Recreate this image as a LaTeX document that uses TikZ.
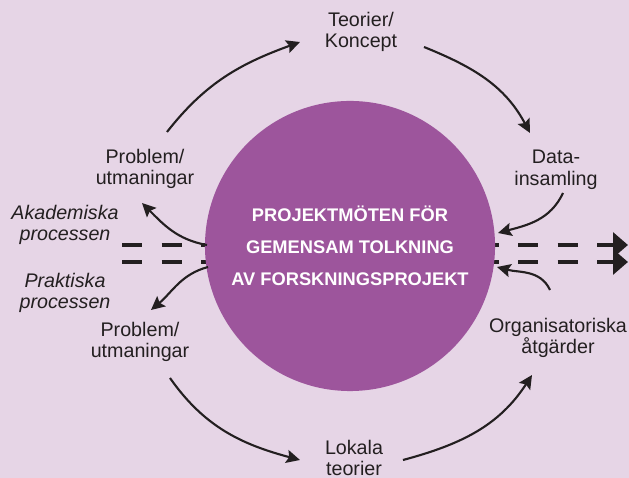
\documentclass[tikz,border=0pt]{standalone}
\usepackage{fontspec}
\setmainfont{Liberation Sans}
\usetikzlibrary{arrows.meta}
\definecolor{lavbg}{HTML}{E6D5E6}
\definecolor{plum}{HTML}{9D559C}
\definecolor{ink}{HTML}{231F20}

\begin{document}
\begin{tikzpicture}[x=0.025cm, y=0.025cm,
	label/.style={align=center, text=ink, inner sep=0pt, font=\fontsize{14}{15.5}\selectfont},
	side/.style={label, font=\fontsize{14}{15.5}\selectfont\itshape},
	flow/.style={ink, line width=1.5pt, -{Stealth[length=3.4mm, width=3.3mm, inset=0.6mm]}},
	track/.style={ink, line width=3.2pt, dash pattern=on 0.5cm off 0.49cm, -{Triangle[length=0.375cm, width=0.62cm]}}]
	\fill[lavbg] (0, 0) rectangle (629, 478);
	\useasboundingbox (0, 0) rectangle (629, 478);
	
	\coordinate (akad-start) at (122, 233);
	\coordinate (akad-end) at (628, 233);
	\coordinate (prak-start) at (122, 216);
	\coordinate (prak-end) at (628, 216);
	\draw[track] (akad-start) -- (akad-end);
	\draw[track] (prak-start) -- (prak-end);
	
	\node[circle, fill=plum, minimum size=7.25cm, inner sep=0pt, align=center, text=white, font=\fontsize{13}{22.7}\selectfont\bfseries] (core) at (350, 232) {PROJEKTMÖTEN FÖR\\GEMENSAM TOLKNING\\AV FORSKNINGSPROJEKT};
	
	\node[label] (teo) at (361, 446) {Teorier/\\Koncept};
	\node[label] (data) at (556, 308) {Data-\\insamling};
	\node[label] (probA) at (145, 309) {Problem/\\utmaningar};
	\node[side] (akad) at (65, 253) {Akademiska\\processen};
	\node[side] (prak) at (65, 185) {Praktiska\\processen};
	\node[label] (probP) at (140, 136) {Problem/\\utmaningar};
	\node[label] (org) at (558, 140) {Organisatoriska\\åtgärder};
	\node[label] (lok) at (354, 20) {Lokala\\teorier};
	
	\coordinate (probA-out) at (167, 346);
	\coordinate (teo-in) at (300, 436);
	\coordinate (teo-out) at (424, 431);
	\coordinate (data-in) at (530, 345);
	\coordinate (data-out) at (563, 285);
	\coordinate (core-in1) at (498, 245);
	\coordinate (org-out) at (550, 188);
	\coordinate (core-in2) at (497, 211);
	\coordinate (core-out1) at (207, 233);
	\coordinate (probA-in) at (142, 275);
	\coordinate (core-out2) at (208, 211);
	\coordinate (probP-in) at (151, 168);
	\coordinate (probP-out) at (170, 100);
	\coordinate (lok-in) at (300, 18);
	\coordinate (lok-out) at (403, 18);
	\coordinate (org-in) at (532, 103);
	
	\draw[flow] (probA-out) to[out=52, in=200] (teo-in);
	\draw[flow] (teo-out) to[out=-22, in=118] (data-in);
	\draw[flow] (data-out) to[out=-115, in=15] (core-in1);
	\draw[flow] (org-out) to[out=115, in=-15] (core-in2);
	\draw[flow] (core-out1) to[out=170, in=-45] (probA-in);
	\draw[flow] (core-out2) to[out=-165, in=40] (probP-in);
	\draw[flow] (probP-out) to[out=-55, in=165] (lok-in);
	\draw[flow] (lok-out) to[out=15, in=237] (org-in);
\end{tikzpicture}
\end{document}
